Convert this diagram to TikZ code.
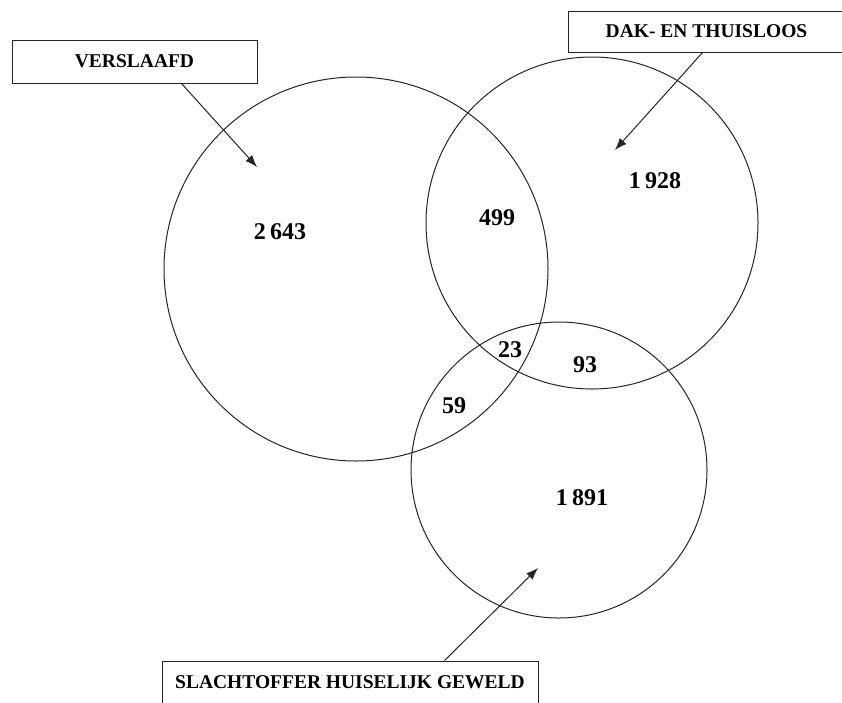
\documentclass[tikz,border=0pt]{standalone}
\usepackage{fontspec}
\setmainfont{Liberation Serif}
\usetikzlibrary{calc,arrows.meta}
\begin{document}
\begin{tikzpicture}[x=1pt,y=-1pt,
  ring/.style={draw=black!85,line width=1pt},
  labelbox/.style={draw=black!85,line width=1pt,inner sep=0pt,font=\fontsize{19.5}{22}\selectfont\bfseries},
  num/.style={inner sep=0pt,font=\fontsize{24}{26}\selectfont\bfseries},
  pointer/.style={draw=black!85,line width=1pt,-{Latex[length=12pt,width=9pt]}}]
\useasboundingbox (0,0) rectangle (842,702);
\fill[white] (0,0) rectangle (842,702);
% circles
\draw[ring] (356,269) circle[radius=192];
\draw[ring] (592,223) circle[radius=166];
\draw[ring] (559,470) circle[radius=148];
% label boxes
\node[labelbox,minimum width=245pt,minimum height=43pt] (v) at (134.5,61.5) {VERSLAAFD};
\node[labelbox,minimum width=277pt,minimum height=41pt] (d) at (706.5,31.5) {DAK- EN THUISLOOS};
\node[labelbox,minimum width=376pt,minimum height=46pt,text depth=0pt] (s) at (350,684) {\raisebox{3pt}{SLACHTOFFER HUISELIJK GEWELD}};
% arrow targets
\coordinate (tv) at (257,167);
\coordinate (td) at (615,150);
\coordinate (ts) at (538,568);
\draw[pointer] ($(v.south west)+(170,0)$) -- (tv);
\draw[pointer] ($(d.south west)+(135,0)$) -- (td);
\draw[pointer] ($(s.north west)+(283,0)$) -- (ts);
% numbers
\node[num] (n1) at (280,232) {2\hspace{0.18em}643};
\node[num] (n2) at (497,218) {499};
\node[num] (n3) at (655,181) {1\hspace{0.18em}928};
\node[num] (n4) at (510,350) {23};
\node[num] (n5) at (585,365) {93};
\node[num] (n6) at (454,406) {59};
\node[num] (n7) at (582,498) {1\hspace{0.18em}891};
\end{tikzpicture}
\end{document}
